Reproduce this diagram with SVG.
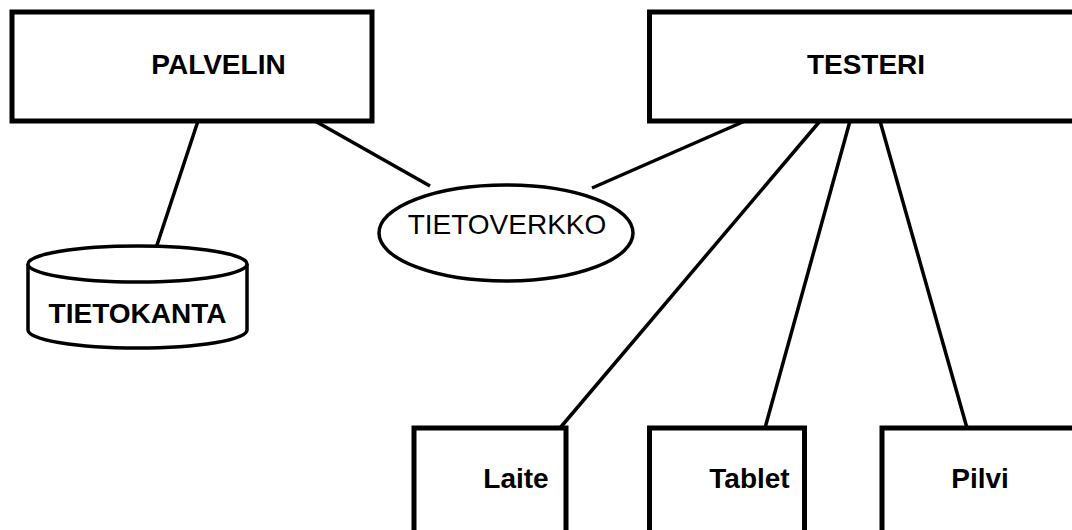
<svg xmlns="http://www.w3.org/2000/svg" width="1072" height="530" viewBox="0 0 1072 530">
  <style>
    .box { fill: #fff; stroke: #000; stroke-width: 5; }
    .shape { fill: #fff; stroke: #000; stroke-width: 3.5; }
    .edge { stroke: #000; stroke-width: 3.5; fill: none; }
    .bold { font-family: "Liberation Sans", Arial, sans-serif; font-weight: bold; font-size: 28px; text-anchor: middle; fill: #000; }
    .plain { font-family: "Liberation Sans", Arial, sans-serif; font-size: 28px; text-anchor: middle; fill: #000; }
  </style>
  <rect width="1072" height="530" fill="#fff"/>

  <g id="connectors">
    <line class="edge" x1="198" y1="121" x2="156" y2="248"/>
    <line class="edge" x1="315" y1="121" x2="430" y2="186"/>
    <line class="edge" x1="745" y1="121" x2="592" y2="188"/>
    <line class="edge" x1="820" y1="121" x2="560" y2="428"/>
    <line class="edge" x1="850" y1="121" x2="765" y2="428"/>
    <line class="edge" x1="880" y1="121" x2="967" y2="428"/>
  </g>

  <g id="palvelin">
    <rect class="box" x="12" y="12" width="360" height="109"/>
    <text class="bold" x="218.5" y="74">PALVELIN</text>
  </g>

  <g id="testeri">
    <rect class="box" x="649.5" y="12" width="440" height="109"/>
    <text class="bold" x="866" y="74">TESTERI</text>
  </g>

  <g id="tietokanta">
    <path class="shape" d="M28,264 A109.5,18 0 0 1 247,264 L247,330 A109.5,18 0 0 1 28,330 Z"/>
    <path class="shape" d="M28,264 A109.5,18 0 0 0 247,264"/>
    <text class="bold" x="137.5" y="323">TIETOKANTA</text>
  </g>

  <g id="tietoverkko">
    <ellipse class="shape" cx="506" cy="233" rx="127" ry="48"/>
    <text class="plain" x="507" y="234">TIETOVERKKO</text>
  </g>

  <g id="laite">
    <rect class="box" x="414" y="428" width="152" height="120"/>
    <text class="bold" x="516" y="488">Laite</text>
  </g>

  <g id="tablet">
    <rect class="box" x="649.5" y="428" width="155" height="120"/>
    <text class="bold" x="749.5" y="488">Tablet</text>
  </g>

  <g id="pilvi">
    <rect class="box" x="882" y="428" width="220" height="120"/>
    <text class="bold" x="980" y="488">Pilvi</text>
  </g>
</svg>
